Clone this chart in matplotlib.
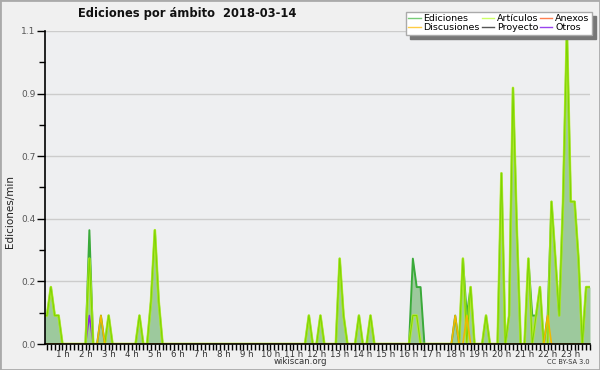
import numpy as np
import matplotlib
matplotlib.use("Agg")
import matplotlib.pyplot as plt
from matplotlib.patches import Rectangle
from matplotlib.lines import Line2D

# edits per minute, one value every 10 minutes (144 slots, 12 per row = 2 hours)
ediciones = [
    0, .1, .1, .2, .1, .1, 0, 0, 0, 0, 0, 0,
    0, .4, 0, 0, .1, 0, .1, 0, 0, 0, 0, 0,
    0, 0, .1, 0, 0, .15, .4, .15, 0, 0, 0, 0,
    0, 0, 0, 0, 0, 0, 0, 0, 0, 0, 0, 0,
    0, 0, 0, 0, 0, 0, 0, 0, 0, 0, 0, 0,
    0, 0, 0, 0, 0, 0, 0, 0, 0, 0, .1, 0,
    0, .1, 0, 0, 0, 0, .3, .1, 0, 0, 0, .1,
    0, 0, .1, 0, 0, 0, 0, 0, 0, 0, 0, 0,
    .0, .3, .2, .2, 0, 0, 0, 0, 0, 0, 0, 0,
    .1, 0, .3, .1, .2, 0, 0, 0, .1, 0, 0, 0,
    .6, 0, .1, .9, .4, 0, 0, .3, .1, .1, .2, 0,
    .1, .5, .3, .1, .5, 1.1, .5, .5, .3, 0, .2, .2,
]
articulos = [
    0, .1, .1, .2, .1, .1, 0, 0, 0, 0, 0, 0,
    0, .3, 0, 0, 0, 0, .1, 0, 0, 0, 0, 0,
    0, 0, .1, 0, 0, .15, .4, .15, 0, 0, 0, 0,
    0, 0, 0, 0, 0, 0, 0, 0, 0, 0, 0, 0,
    0, 0, 0, 0, 0, 0, 0, 0, 0, 0, 0, 0,
    0, 0, 0, 0, 0, 0, 0, 0, 0, 0, .1, 0,
    0, .1, 0, 0, 0, 0, .3, .1, 0, 0, 0, .1,
    0, 0, .1, 0, 0, 0, 0, 0, 0, 0, 0, 0,
    0, .1, .1, 0, 0, 0, 0, 0, 0, 0, 0, 0,
    0, 0, .3, 0, .2, 0, 0, 0, .1, 0, 0, 0,
    .6, 0, .1, .9, .4, 0, 0, .3, 0, .1, .2, 0,
    0, .5, .3, .1, .5, 1.1, .5, .5, .3, 0, .2, .2,
]
# sparse series: {slot: value}
discusiones = {16: .1, 108: .1, 111: .1, 132: .1}
otros = {13: .1}
anexos = {}
proyecto = {}

hour_labels = ["%d h" % h for h in range(1, 24)]
title = "Ediciones por ámbito  2018-03-14"


def dense(d):
    v = np.zeros(len(ediciones))
    for k, val in d.items():
        v[k] = val
    return v


x = np.arange(len(ediciones)) / 6.0

fig = plt.figure(figsize=(6, 3.7), dpi=100, facecolor="#f0f0f0")
fig.patches.append(Rectangle((0, 0), 1, 1, transform=fig.transFigure,
                             fill=False, edgecolor="#aaaaaa", linewidth=2))
ax = fig.add_axes([45 / 600, 1 - 344 / 370, 545 / 600, 313 / 370])
ax.set_facecolor("#eeeff1")

ax.fill_between(x, 0, ediciones, color="#9dc99d", lw=0, zorder=1)
ax.plot(x, dense(proyecto), color="#555555", lw=0.8)
ax.plot(x, dense(anexos), color="#ff7f50", lw=0.8)
ax.plot(x, dense(otros), color="#8a2be2", lw=1.2)
ax.plot(x, ediciones, color="#3aaa3a", lw=1.4)
ax.plot(x, articulos, color="#b8f020", lw=1.9, alpha=0.85)
ax.plot(x, articulos, color="#7ed400", lw=0.7)
ax.plot(x, dense(discusiones), color="#f0b800", lw=1.2)

ax.set_xlim(0.246, 23.74)
ax.set_ylim(0, 1.1)

yt = np.linspace(0, 1.1, 6)
ax.set_yticks(yt)
ax.set_yticklabels(["%.1f" % v for v in yt])
ax.set_yticks((yt[:-1] + yt[1:]) / 2, minor=True)
ax.yaxis.grid(True, color="#cccccc", lw=1)
ax.set_axisbelow(True)

ax.set_xticks(range(1, 24))
ax.set_xticklabels(hour_labels)
ax.set_xticks(np.arange(2, 144) / 6.0, minor=True)

for s in ("top", "right"):
    ax.spines[s].set_visible(False)
ax.spines["left"].set_linewidth(1.2)
ax.spines["bottom"].set_linewidth(1.2)
ax.tick_params(axis="y", which="major", length=6, width=1, labelsize=6.5,
               labelcolor="#555555", pad=1)
ax.tick_params(axis="y", which="minor", length=4, width=1)
ax.tick_params(axis="x", which="both", length=4, width=1, labelsize=6.2,
               labelcolor="#333333", pad=0)

fig.text(187 / 600, 1 - 14 / 370, title, ha="center", va="center",
         fontsize=8.3, fontweight="bold", color="#111111")
fig.text(10 / 600, 1 - 212 / 370, "Ediciones/min", rotation=90,
         ha="center", va="center", fontsize=7.5, color="#222222")
fig.text(300 / 600, 1 - 362 / 370, "wikiscan.org", ha="center", va="center",
         fontsize=6.2, color="#333333")
fig.text(590 / 600, 1 - 362 / 370, "CC BY-SA 3.0", ha="right", va="center",
         fontsize=4.8, color="#333333")

names = ["Ediciones", "Discusiones", "Artículos", "Proyecto", "Anexos", "Otros"]
colors = ["#77cc77", "#ffcc44", "#ccff66", "#555555", "#ff7f50", "#9944ee"]
handles = [Line2D([], [], color=c, lw=1) for c in colors]
leg = fig.legend(handles, names, ncol=3, loc="upper right",
                 bbox_to_anchor=(592 / 600, 1 - 12 / 370), fontsize=6.8,
                 frameon=True, fancybox=False,
                 shadow={"color": "#777777", "alpha": 1, "ox": 3, "oy": -3},
                 handlelength=1.3, handletextpad=0.3, columnspacing=0.2,
                 labelspacing=0.0, borderpad=0.25, borderaxespad=0)
leg.get_frame().set_edgecolor("#aaaaaa")
leg.get_frame().set_facecolor("white")
leg.get_frame().set_alpha(1)

fig.savefig("out.png", dpi=100, facecolor=fig.get_facecolor())
